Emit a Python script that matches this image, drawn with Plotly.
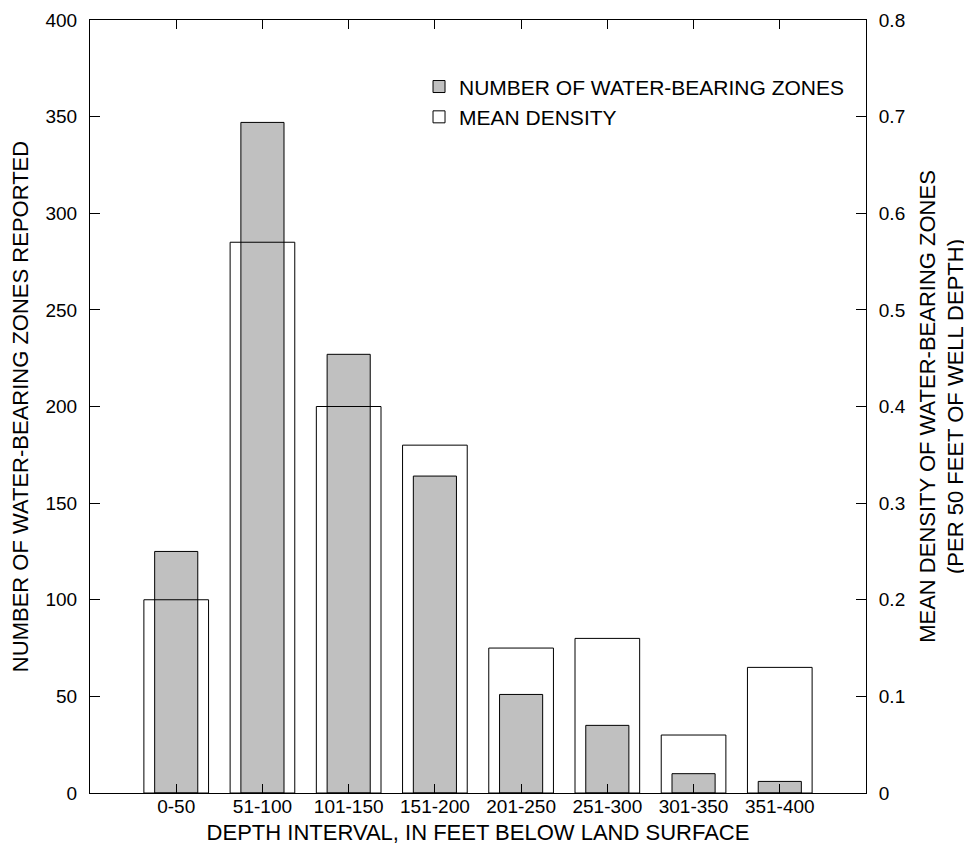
import plotly.graph_objects as go

categories = ["0-50", "51-100", "101-150", "151-200", "201-250", "251-300", "301-350", "351-400"]
zone_counts = [125, 347, 227, 164, 51, 35, 10, 6]
mean_density = [0.20, 0.57, 0.40, 0.36, 0.15, 0.16, 0.06, 0.13]
left_ticks = [0, 50, 100, 150, 200, 250, 300, 350, 400]
right_ticks = [0, 0.1, 0.2, 0.3, 0.4, 0.5, 0.6, 0.7, 0.8]
right_tick_text = ["0", "0.1", "0.2", "0.3", "0.4", "0.5", "0.6", "0.7", "0.8"]

FONT = "Liberation Sans, Arial, sans-serif"

fig = go.Figure()
fig.add_trace(go.Bar(
    x=categories, y=zone_counts, name="NUMBER OF WATER-BEARING ZONES",
    width=0.5, marker=dict(color="#c0c0c0", line=dict(color="black", width=1)),
    yaxis="y",
))
fig.add_trace(go.Bar(
    x=categories, y=mean_density, name="MEAN DENSITY",
    width=0.75, marker=dict(color="rgba(255,255,255,0)", line=dict(color="black", width=1)),
    yaxis="y2",
))

fig.update_layout(
    width=972, height=850,
    margin=dict(l=82, r=114, t=12, b=65, autoexpand=False),
    paper_bgcolor="white", plot_bgcolor="white",
    barmode="overlay",
    font=dict(family=FONT, color="black", size=19),
    showlegend=True,
    legend=dict(
        x=0.424, y=0.940, xanchor="left", yanchor="top",
        bgcolor="rgba(0,0,0,0)", font=dict(size=21, family=FONT),
        traceorder="normal",
    ),
    xaxis=dict(
        type="category", range=[-1, 8],
        showline=True, linecolor="black", linewidth=1, mirror="ticks",
        ticks="inside", ticklen=9, tickcolor="black", tickwidth=1,
        showgrid=False, zeroline=False,
        tickfont=dict(size=19), ticklabelstandoff=-4,
        title=dict(text="DEPTH INTERVAL, IN FEET BELOW LAND SURFACE", font=dict(size=22), standoff=8),
        automargin=False,
    ),
    yaxis=dict(
        range=[0, 400], tickvals=left_ticks,
        showline=True, linecolor="black", linewidth=1,
        ticks="inside", ticklen=10, tickcolor="black", tickwidth=1,
        showgrid=False, zeroline=False,
        tickfont=dict(size=19), ticklabelstandoff=8, ticklabeloverflow="allow",
        title=dict(text="NUMBER OF WATER-BEARING ZONES REPORTED", font=dict(size=22), standoff=12),
        automargin=False,
    ),
    yaxis2=dict(
        range=[0, 0.8], tickvals=right_ticks, ticktext=right_tick_text,
        overlaying="y", side="right",
        showline=True, linecolor="black", linewidth=1,
        ticks="inside", ticklen=10, tickcolor="black", tickwidth=1,
        showgrid=False, zeroline=False,
        tickfont=dict(size=19), ticklabelstandoff=8, ticklabeloverflow="allow",
        title=dict(text="MEAN DENSITY OF WATER-BEARING ZONES<br>(PER 50 FEET OF WELL DEPTH)", font=dict(size=22), standoff=14),
        automargin=False,
    ),
)

fig.write_html("out.html")
